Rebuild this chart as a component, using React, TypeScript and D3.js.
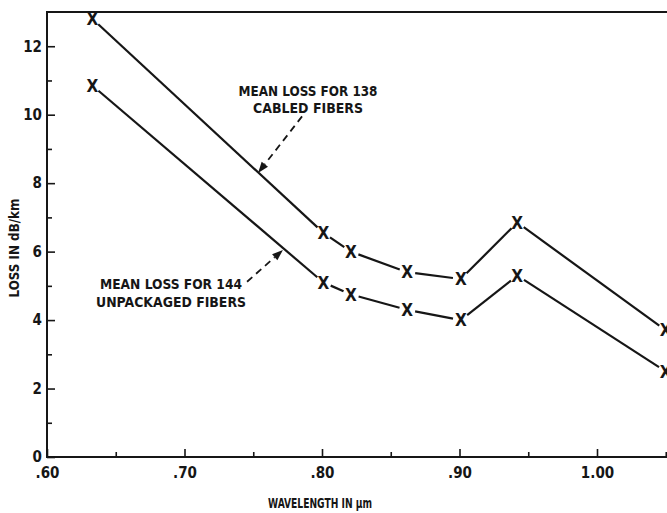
import React from 'react';
import * as d3 from 'd3';

// wavelengths in um, loss in dB/km
const wavelengths = [0.633, 0.801, 0.821, 0.862, 0.901, 0.942, 1.05];
const cabledLoss = [12.8, 6.55, 6.0, 5.4, 5.2, 6.85, 3.7];
const unpackagedLoss = [10.85, 5.1, 4.75, 4.3, 4.0, 5.3, 2.5];

const xMajorTicks = [0.6, 0.7, 0.8, 0.9, 1.0];
const xMinorTicks = [0.65, 0.75, 0.85, 0.95, 1.05];
const yMajorTicks = [0, 2, 4, 6, 8, 10, 12];
const yMinorTicks = [1, 3, 5, 7, 9, 11];

const cabledLabel = ['MEAN LOSS FOR 138', 'CABLED FIBERS'];
const unpackagedLabel = ['MEAN LOSS FOR 144', 'UNPACKAGED FIBERS'];

const FONT = "'Liberation Sans Narrow', 'DejaVu Sans Condensed', 'Liberation Sans', sans-serif";
const INK = '#161616';

const App = () => {
  const ref = React.useRef<SVGSVGElement>(null);

  React.useEffect(() => {
    const svg = d3.select(ref.current);
    svg.selectAll('*').remove();

    const width = 667;
    const height = 513;

    const x = d3.scaleLinear().domain([0.6, 1.0]).range([47, 597]);
    const y = d3.scaleLinear().domain([0, 13]).range([457, 12]);

    svg.append('rect').attr('width', width).attr('height', height).attr('fill', '#fff');

    // frame: left axis, bottom axis, top border (plot runs off the right edge)
    const frame = svg.append('g').attr('stroke', INK).attr('stroke-width', 2).attr('fill', 'none');
    frame.append('line').attr('x1', x(0.6)).attr('x2', x(0.6)).attr('y1', y(0)).attr('y2', y(13));
    frame.append('line').attr('x1', x(0.6) - 1).attr('x2', width).attr('y1', y(0)).attr('y2', y(0));
    frame.append('line').attr('x1', x(0.6) - 1).attr('x2', width).attr('y1', y(13)).attr('y2', y(13));

    const styleAxis = (g) => {
      g.select('.domain').remove();
      g.selectAll('line').attr('stroke', INK).attr('stroke-width', 1.6);
      g.selectAll('text')
        .attr('fill', INK)
        .style('font-family', FONT)
        .style('font-weight', 'bold')
        .style('font-size', '15px');
    };

    svg.append('g')
      .attr('transform', `translate(${x(0.6)},0)`)
      .call(d3.axisLeft(y).tickValues(yMajorTicks).tickSize(-8).tickPadding(5).tickFormat(d3.format('d')))
      .call(styleAxis);
    svg.append('g')
      .attr('transform', `translate(${x(0.6)},0)`)
      .call(d3.axisLeft(y).tickValues(yMinorTicks).tickSize(-5).tickFormat(() => ''))
      .call(styleAxis);

    const fmtX = (d) => (d < 1 ? d3.format('.2f')(d).replace(/^0/, '') : d3.format('.2f')(d));
    svg.append('g')
      .attr('transform', `translate(0,${y(0)})`)
      .call(d3.axisBottom(x).tickValues(xMajorTicks).tickSize(-8).tickPadding(10).tickFormat(fmtX))
      .call(styleAxis);
    svg.append('g')
      .attr('transform', `translate(0,${y(0)})`)
      .call(d3.axisBottom(x).tickValues(xMinorTicks).tickSize(-5).tickFormat(() => ''))
      .call(styleAxis);

    // axis titles
    svg.append('text')
      .attr('transform', 'translate(14,248) rotate(-90)')
      .attr('text-anchor', 'middle')
      .attr('dominant-baseline', 'central')
      .attr('textLength', 99)
      .attr('lengthAdjust', 'spacingAndGlyphs')
      .style('font-family', FONT)
      .style('font-weight', 'bold')
      .style('font-size', '14px')
      .attr('fill', INK)
      .text('LOSS IN dB/km');

    svg.append('text')
      .attr('x', 320)
      .attr('y', 508)
      .attr('text-anchor', 'middle')
      .attr('textLength', 104)
      .attr('lengthAdjust', 'spacingAndGlyphs')
      .style('font-family', FONT)
      .style('font-weight', 'bold')
      .style('font-size', '14px')
      .attr('fill', INK)
      .text('WAVELENGTH IN \u03bcm');

    // series: segments trimmed short of each X marker
    const gap = 8;
    const drawSeries = (values) => {
      const pts = wavelengths.map((w, i) => [x(w), y(values[i])]);
      const g = svg.append('g');
      d3.pairs(pts).forEach(([a, b]) => {
        const dx = b[0] - a[0];
        const dy = b[1] - a[1];
        const len = Math.hypot(dx, dy);
        const ux = dx / len;
        const uy = dy / len;
        g.append('line')
          .attr('x1', a[0] + ux * gap)
          .attr('y1', a[1] + uy * gap)
          .attr('x2', b[0] - ux * gap)
          .attr('y2', b[1] - uy * gap)
          .attr('stroke', INK)
          .attr('stroke-width', 2.2);
      });
      g.selectAll('text.mark')
        .data(pts)
        .enter()
        .append('text')
        .attr('class', 'mark')
        .attr('x', d => d[0])
        .attr('y', d => d[1])
        .attr('dy', '0.36em')
        .attr('text-anchor', 'middle')
        .style('font-family', FONT)
        .style('font-weight', 'bold')
        .style('font-size', '17px')
        .attr('fill', INK)
        .text('X');
    };
    drawSeries(cabledLoss);
    drawSeries(unpackagedLoss);

    // annotations with dashed leaders and arrowheads
    const arrow = (tail, tip) => {
      const [tx, ty] = [x(tail[0]), y(tail[1])];
      const [px, py] = [x(tip[0]), y(tip[1])];
      const len = Math.hypot(px - tx, py - ty);
      const ux = (px - tx) / len;
      const uy = (py - ty) / len;
      const head = 11;
      const bx = px - ux * head;
      const by = py - uy * head;
      svg.append('line')
        .attr('x1', tx).attr('y1', ty).attr('x2', bx).attr('y2', by)
        .attr('stroke', INK).attr('stroke-width', 1.8)
        .attr('stroke-dasharray', '7,5');
      svg.append('path')
        .attr('d', `M${px},${py}L${bx - uy * 4},${by + ux * 4}L${bx + uy * 4},${by - ux * 4}Z`)
        .attr('fill', INK);
    };
    arrow([0.7855, 9.95], [0.7535, 8.3]);
    arrow([0.7455, 5.12], [0.7716, 6.05]);

    const label = (lines, cx, baselines, lengths) => {
      lines.forEach((t, i) => {
        svg.append('text')
          .attr('x', cx)
          .attr('y', baselines[i])
          .attr('text-anchor', 'middle')
          .attr('textLength', lengths[i])
          .attr('lengthAdjust', 'spacingAndGlyphs')
          .style('font-family', FONT)
          .style('font-weight', 'bold')
          .style('font-size', '14px')
          .attr('fill', INK)
          .text(t);
      });
    };
    label(cabledLabel, 308, [96, 113], [139, 110]);
    label(unpackagedLabel, 171, [289, 307], [142, 150]);
  }, []);

  return (
    <svg
      ref={ref}
      width={667}
      height={513}
      style={{ position: 'absolute', left: 0, top: 0, display: 'block' }}
    />
  );
};

export default App;
